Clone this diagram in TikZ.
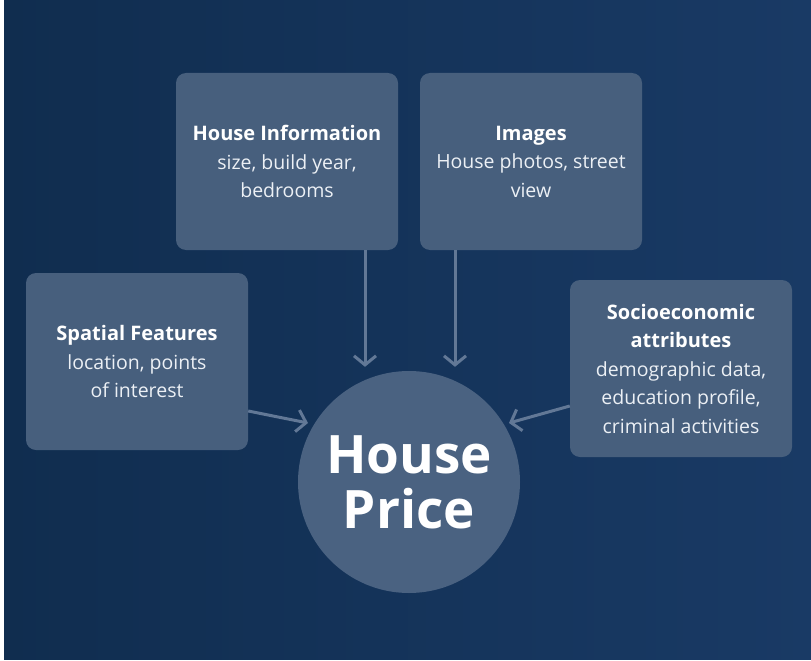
\documentclass[tikz,border=0pt]{standalone}
\usepackage{fontspec}
\setmainfont{Open Sans}
\usetikzlibrary{arrows.meta}
\definecolor{bgleft}{RGB}{16,45,79}
\definecolor{bgright}{RGB}{25,58,101}
\definecolor{boxfill}{RGB}{71,95,125}
\definecolor{ballfill}{RGB}{74,98,129}
\definecolor{arrowcol}{RGB}{98,120,150}
\definecolor{bodytext}{RGB}{236,240,245}

\begin{document}
\begin{tikzpicture}[x=1pt,y=-1pt]
    \tikzstyle{feature}=[rounded corners=10pt,fill=boxfill,minimum width=222pt,minimum height=177pt,
        align=center,text=bodytext,font=\fontsize{19.5}{28.5}\selectfont,inner sep=0pt]
    \tikzstyle{target}=[circle,fill=ballfill,minimum size=222pt,inner sep=0pt,align=center,
        text=white,font=\fontsize{53}{55}\selectfont\bfseries]
    \tikzstyle{feed}=[draw=arrowcol,line width=3pt,-{Straight Barb[length=9pt,width=22pt,line width=3pt]}]
    \newcommand{\ttl}[1]{{\bfseries\color{white}\fontsize{20}{28.5}\selectfont #1}}

    % Background
    \useasboundingbox (0,0) rectangle (811,661);
    \fill[white] (0,0) rectangle (811,661);
    \shade[left color=bgleft,right color=bgright] (4,0) rectangle (811,659);

    % Draw the input boxes
    \node[feature] (hinfo) at (287,161.5) {\ttl{House Information}\\size, build year,\\bedrooms};
    \node[feature] (images) at (531,161.5) {\ttl{Images}\\House photos, street\\view};
    \node[feature] (spatial) at (137,361.5) {\ttl{Spatial Features}\\location, points\\of interest};
    \node[feature] (socio) at (681,368.5) {\ttl{Socioeconomic}\\\ttl{attributes}\\demographic data,\\education profile,\\criminal activities};

    % Draw the target node
    \node[target] (price) at (409,482) {House\\Price};

    % Arrow ends near the circle
    \coordinate (sp-end) at (308,423);
    \coordinate (so-end) at (509,423);

    % Connect every box with the target
    \draw[feed] ([xshift=78pt]hinfo.south) -- ([xshift=78pt,yshift=4pt]hinfo.south |- price.north);
    \draw[feed] ([xshift=-76pt]images.south) -- ([xshift=-76pt,yshift=4pt]images.south |- price.north);
    \draw[feed] ([yshift=-49.5pt]spatial.east) -- (sp-end);
    \draw[feed] ([yshift=-37.5pt]socio.west) -- (so-end);

\end{tikzpicture}
\end{document}
